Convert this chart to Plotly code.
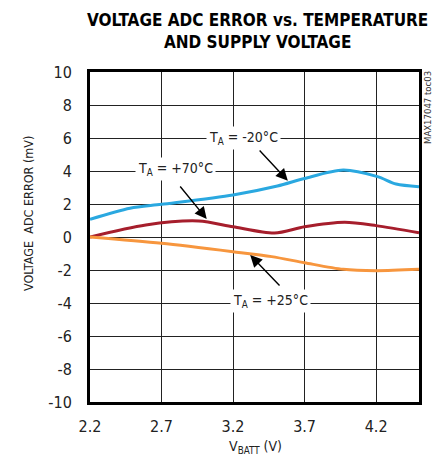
import plotly.graph_objects as go

# Data
vbatt_m20 = [2.2, 2.48, 2.7, 3.2, 3.51, 3.7, 3.97, 4.21, 4.34, 4.5]
err_m20 = [1.07, 1.74, 1.98, 2.55, 3.09, 3.55, 4.06, 3.66, 3.21, 3.05]

vbatt_p70 = [2.2, 2.59, 2.96, 3.2, 3.49, 3.7, 3.98, 4.2, 4.5]
err_p70 = [0.0, 0.73, 0.97, 0.62, 0.24, 0.62, 0.89, 0.69, 0.26]

vbatt_p25 = [2.2, 2.7, 3.2, 3.47, 3.7, 3.97, 4.2, 4.5]
err_p25 = [0.0, -0.38, -0.89, -1.19, -1.56, -1.96, -2.04, -1.96]

x_ticks = [2.2, 2.7, 3.2, 3.7, 4.2]
y_ticks = [-10, -8, -6, -4, -2, 0, 2, 4, 6, 8, 10]

FONT = "Noto Sans Condensed, Liberation Sans Narrow, DejaVu Sans Condensed, sans-serif"

fig = go.Figure()
fig.add_trace(go.Scatter(x=vbatt_m20, y=err_m20, mode="lines",
                         line=dict(color="#2AA8E0", width=3, shape="spline", smoothing=0.8)))
fig.add_trace(go.Scatter(x=vbatt_p70, y=err_p70, mode="lines",
                         line=dict(color="#A61E2C", width=3, shape="spline", smoothing=0.8)))
fig.add_trace(go.Scatter(x=vbatt_p25, y=err_p25, mode="lines",
                         line=dict(color="#F7963E", width=3, shape="spline", smoothing=0.8)))

labels = [
    dict(x=3.27, y=6.0, text="T<sub>A</sub> = -20°C"),
    dict(x=2.80, y=4.1, text="T<sub>A</sub> = +70°C"),
    dict(x=3.46, y=-3.85, text="T<sub>A</sub> = +25°C"),
]
annotations = []
for lb in labels:
    annotations.append(dict(x=lb["x"], y=lb["y"], xref="x", yref="y", text=lb["text"],
                            showarrow=False, bgcolor="white", borderpad=2,
                            xanchor="center", yanchor="middle",
                            font=dict(family=FONT, size=14, color="#222")))

arrows = [
    ((3.376, 5.33), (3.583, 3.41)),
    ((2.822, 3.15), (3.016, 1.09)),
    ((3.535, -3.03), (3.320, -1.09)),
]
for (tx, ty), (hx, hy) in arrows:
    annotations.append(dict(x=hx, y=hy, ax=tx, ay=ty, xref="x", yref="y", axref="x", ayref="y",
                            text="", showarrow=True, arrowhead=2, arrowsize=1.7,
                            arrowwidth=1.4, arrowcolor="black"))

annotations.append(dict(x=0.5, y=1.0, xref="paper", yref="paper", yshift=41, xshift=3,
                        text="<b>VOLTAGE ADC ERROR vs. TEMPERATURE<br>AND SUPPLY VOLTAGE</b>",
                        showarrow=False, font=dict(family=FONT, size=17, color="black"),
                        yanchor="middle", xanchor="center"))
annotations.append(dict(x=0, y=0.5, xref="paper", yref="paper", xshift=-62, yshift=23,
                        text="VOLTAGE  ADC ERROR (mV)", textangle=-90, showarrow=False,
                        xanchor="center", yanchor="middle",
                        font=dict(family=FONT, size=12.5, color="#222")))
annotations.append(dict(x=0.5, y=0, xref="paper", yref="paper", yshift=-45, xshift=1,
                        text="V<sub>BATT</sub> (V)", showarrow=False,
                        xanchor="center", yanchor="middle",
                        font=dict(family=FONT, size=14, color="#222")))
annotations.append(dict(x=1, y=1, xref="paper", yref="paper", xshift=8, yshift=-36,
                        text="MAX17047 toc03", textangle=-90, showarrow=False,
                        xanchor="center", yanchor="middle",
                        font=dict(family=FONT, size=9.5, color="#333")))

# The page body adds an 8px offset; the figure is sized/margined to compensate.
fig.update_layout(
    width=426, height=448,
    margin=dict(l=82, r=12, t=64, b=54),
    plot_bgcolor="white", paper_bgcolor="white",
    showlegend=False,
    annotations=annotations,
    font=dict(family=FONT, size=14, color="#222"),
)
fig.update_xaxes(range=[2.2, 4.5], tickvals=x_ticks, ticktext=[f"{v:.1f}" for v in x_ticks],
                 showgrid=True, gridcolor="#222", gridwidth=1, zeroline=False,
                 showline=True, linecolor="black", linewidth=3, mirror=True, ticks="",
                 ticklabelstandoff=8,
                 tickfont=dict(family=FONT, size=16, color="#222"))
fig.update_yaxes(range=[-10, 10], tickvals=y_ticks, ticktext=[str(v) for v in y_ticks],
                 showgrid=True, gridcolor="#222", gridwidth=1, zeroline=False,
                 showline=True, linecolor="black", linewidth=3, mirror=True, ticks="",
                 ticklabelstandoff=12,
                 tickfont=dict(family=FONT, size=16, color="#222"))

fig.write_html("out.html")
